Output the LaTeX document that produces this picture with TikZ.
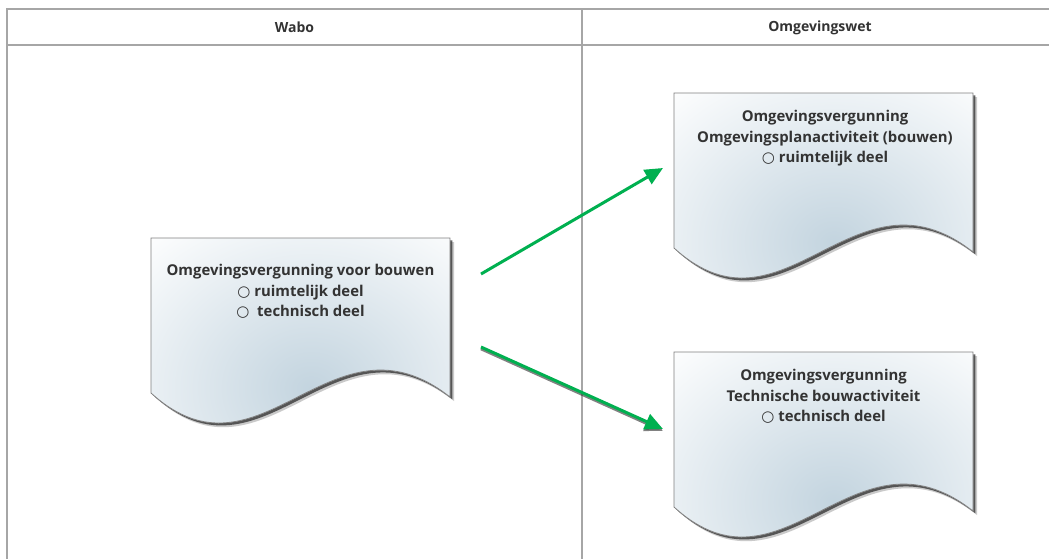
\documentclass[tikz,border=0pt]{standalone}
\usepackage{fontspec}
\setmainfont{Open Sans}
\newfontfamily\symfont{DejaVu Sans}
\usetikzlibrary{arrows.meta}

\definecolor{frameline}{HTML}{A6A6A6}
\definecolor{headtext}{HTML}{333333}
\definecolor{arrowgreen}{HTML}{00B050}
\definecolor{docblue}{HTML}{C3D4DF}
\definecolor{docedge}{HTML}{808080}
\definecolor{docshadow}{HTML}{2E2E2E}

\tikzset{
  lane/.style={draw=frameline, line width=1.4pt},
  headlabel/.style={font=\bfseries\fontsize{14}{15}\selectfont, text=headtext},
  doclabel/.style={font=\bfseries\fontsize{14.9}{20.7}\selectfont, text=headtext,
    align=center, anchor=north, inner sep=0pt},
  flow/.style={draw=arrowgreen, line width=3pt,
    -{Triangle[length=18pt,width=16pt,fill=arrowgreen]}},
  flowshadow/.style={draw=docshadow, line width=3pt, opacity=.6,
    -{Triangle[length=18pt,width=16pt]}},
  % paper sheet with a wavy lower edge, origin at its top-left corner
  docpage/.pic={
    \fill[docshadow, opacity=.25] (4.2,4.2) -- (303.2,4.2) -- (303.2,163.2)
      .. controls (184.2,69.2) and (114.2,259.2) .. (4.2,159.2) -- cycle;
    \fill[docshadow, opacity=.75] (2.4,2.4) -- (301.4,2.4) -- (301.4,161.4)
      .. controls (182.4,67.4) and (112.4,257.4) .. (2.4,157.4) -- cycle;
    \begin{scope}
      \clip (0,0) -- (299,0) -- (299,159)
        .. controls (180,65) and (110,255) .. (0,155) -- cycle;
      \fill[white] (-5,-5) rectangle (305,260);
      \shade[inner color=docblue, outer color=white]
        (160,150) ellipse [x radius=250pt, y radius=210pt];
    \end{scope}
    \draw[docedge, line width=0.8pt] (0,0) -- (299,0) -- (299,159)
      .. controls (180,65) and (110,255) .. (0,155) -- cycle;
  }
}

\newcommand{\ring}{{\symfont\fontsize{15}{15}\selectfont\char"25CB}}

\begin{document}
\begin{tikzpicture}[x=1pt, y=-1pt]
  \useasboundingbox (0,0) rectangle (1049,558);
  \clip (0,0) rectangle (1049,558);
  \fill[white] (0,0) rectangle (1049,558);

  % swimlane frame
  \draw[lane] (7,570) -- (7,9) -- (1070,9);
  \draw[lane] (7,45) -- (1070,45);
  \draw[lane] (582,9) -- (582,570);

  \node[headlabel] (wabo) at (294.5,27.5) {Wabo};
  \node[headlabel] (owet) at (820,27.5) {Omgevingswet};

  % documents
  \pic (olddoc) at (151,238) {docpage};
  \pic (plandoc) at (674,93) {docpage};
  \pic (techdoc) at (674,352) {docpage};

  \node[doclabel] (oldtext) at (300.5,264)
    {Omgevingsvergunning voor bouwen\\
     \ring\ ruimtelijk deel\\
     \ring\ \ technisch deel};
  \node[doclabel] (plantext) at (825,110)
    {Omgevingsvergunning\\
     Omgevingsplanactiviteit (bouwen)\\
     \ring\ ruimtelijk deel};
  \node[doclabel] (techtext) at (823.5,369)
    {Omgevingsvergunning\\
     Technische bouwactiviteit\\
     \ring\ technisch deel};

  % transitions
  \coordinate (upstart) at (481,274);
  \coordinate (upend) at (663,168);
  \coordinate (downstart) at (481,347);
  \coordinate (downend) at (663,429);
  \coordinate (downstartsh) at (481,348.8);
  \coordinate (downendsh) at (663,430.8);

  \draw[flow] (upstart) -- (upend);
  \draw[flowshadow] (downstartsh) -- (downendsh);
  \draw[flow] (downstart) -- (downend);
\end{tikzpicture}
\end{document}
